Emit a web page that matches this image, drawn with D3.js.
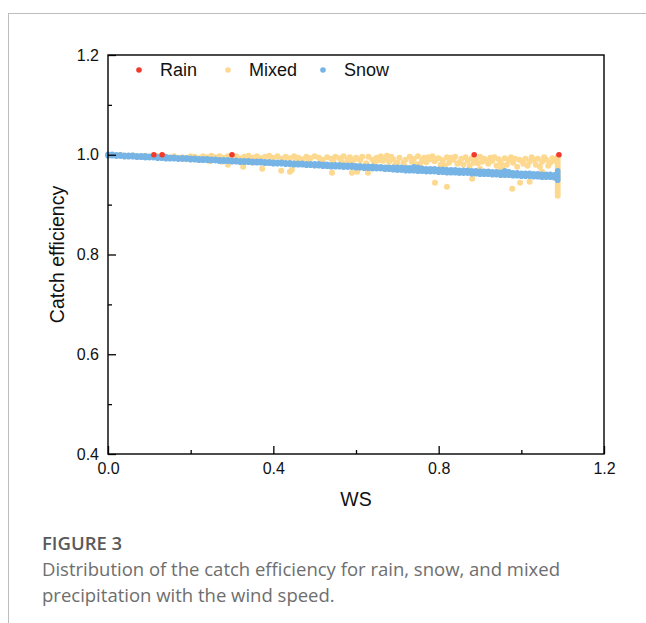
<!DOCTYPE html>
<html>
<head>
<meta charset="utf-8">
<script src="https://cdn.jsdelivr.net/npm/d3@7"></script>
<style>
  body { margin: 0; background: #fff; }
  svg { display: block; }
</style>
</head>
<body>
<svg id="chart"></svg>
<script>
// ---- data ----
const xTicks = [0.0, 0.4, 0.8, 1.2];
const xMinor = [0.2, 0.6, 1.0];
const yTicks = [0.4, 0.6, 0.8, 1.0, 1.2];
const yMinor = [0.5, 0.7, 0.9, 1.1];
const legendNames = ["Rain", "Mixed", "Snow"];

const rain = [[0.111, 1.0], [0.131, 1.0], [0.300, 1.0], [0.886, 1.0], [1.091, 1.0]];

const snowWS = [0.00,0.01,0.02,0.03,0.04,0.05,0.06,0.07,0.08,0.09,0.10,0.11,0.12,0.13,0.14,0.15,0.16,0.17,0.18,0.19,
  0.20,0.21,0.22,0.23,0.24,0.25,0.26,0.27,0.28,0.29,0.30,0.31,0.32,0.33,0.34,0.35,0.36,0.37,0.38,0.39,
  0.40,0.41,0.42,0.43,0.44,0.45,0.46,0.47,0.48,0.49,0.50,0.51,0.52,0.53,0.54,0.55,0.56,0.57,0.58,0.59,
  0.60,0.61,0.62,0.63,0.64,0.65,0.66,0.67,0.68,0.69,0.70,0.71,0.72,0.73,0.74,0.75,0.76,0.77,0.78,0.79,
  0.80,0.81,0.82,0.83,0.84,0.85,0.86,0.87,0.88,0.89,0.90,0.91,0.92,0.93,0.94,0.95,0.96,0.97,0.98,0.99,
  1.00,1.01,1.02,1.03,1.04,1.05,1.06,1.07,1.08];
const snowHigh = [1.001,1.001,1.000,1.000,0.999,0.999,0.999,0.998,0.998,0.998,0.997,0.997,0.996,0.996,0.996,0.995,0.995,0.994,0.994,0.994,
  0.993,0.993,0.992,0.992,0.992,0.991,0.991,0.990,0.990,0.990,0.989,0.989,0.988,0.988,0.988,0.987,0.987,0.987,0.986,0.986,
  0.985,0.985,0.985,0.984,0.984,0.983,0.983,0.983,0.982,0.982,0.982,0.982,0.981,0.981,0.980,0.980,0.980,0.979,0.979,0.979,
  0.978,0.978,0.977,0.977,0.977,0.976,0.976,0.975,0.975,0.975,0.975,0.975,0.974,0.974,0.976,0.975,0.973,0.972,0.972,0.972,
  0.971,0.971,0.970,0.970,0.970,0.969,0.969,0.969,0.968,0.968,0.967,0.967,0.967,0.966,0.966,0.965,0.968,0.966,0.964,0.964,
  0.963,0.963,0.963,0.962,0.962,0.961,0.961,0.961,0.960];
const snowLow = [0.998,0.998,0.997,0.997,0.996,0.996,0.996,0.995,0.995,0.994,0.994,0.994,0.993,0.993,0.992,0.992,0.992,0.991,0.991,0.991,
  0.990,0.990,0.989,0.989,0.989,0.988,0.988,0.987,0.987,0.987,0.986,0.986,0.985,0.985,0.985,0.984,0.984,0.984,0.983,0.983,
  0.982,0.982,0.982,0.981,0.981,0.980,0.980,0.980,0.979,0.979,0.978,0.978,0.977,0.977,0.976,0.976,0.976,0.975,0.975,0.975,
  0.974,0.974,0.973,0.973,0.972,0.972,0.972,0.971,0.971,0.970,0.969,0.969,0.968,0.968,0.968,0.967,0.967,0.966,0.966,0.966,
  0.965,0.965,0.964,0.964,0.964,0.963,0.963,0.963,0.962,0.962,0.961,0.961,0.961,0.960,0.960,0.959,0.959,0.959,0.958,0.958,
  0.957,0.957,0.957,0.956,0.956,0.955,0.955,0.955,0.954];
const snowEnd = [[1.088, 0.968], [1.088, 0.964], [1.088, 0.960], [1.088, 0.956], [1.088, 0.952], [1.088, 0.949]];

const mixed = [
  [0.03,1.000],[0.06,0.999],[0.09,0.998],[0.12,0.997],[0.14,0.996],[0.15,0.993],[0.16,0.997],[0.18,0.995],[0.19,0.991],[0.20,0.997],
  [0.21,0.996],[0.22,0.993],[0.23,0.997],[0.24,0.995],[0.245,0.987],[0.25,0.998],[0.26,0.995],[0.27,0.997],[0.275,0.986],[0.28,0.994],
  [0.29,0.997],[0.29,0.980],[0.30,0.995],[0.31,0.997],[0.32,0.993],[0.33,0.996],[0.34,0.998],[0.35,0.994],[0.36,0.997],[0.37,0.993],
  [0.38,0.996],[0.39,0.998],[0.40,0.994],[0.41,0.997],[0.42,0.992],[0.43,0.996],[0.44,0.993],[0.45,0.997],[0.46,0.994],[0.47,0.991],
  [0.48,0.996],[0.49,0.993],[0.50,0.997],[0.51,0.994],[0.52,0.990],[0.53,0.995],[0.54,0.992],[0.55,0.996],
  [0.327,0.976],[0.345,0.985],[0.373,0.972],[0.40,0.983],[0.419,0.968],[0.44,0.966],[0.445,0.970],[0.49,0.980],[0.542,0.964],
  [0.305,0.990],[0.335,0.991],[0.365,0.989],[0.395,0.990],[0.425,0.988],[0.455,0.989],[0.485,0.987],[0.515,0.986],[0.545,0.987],
  [0.56,0.993],[0.565,0.986],[0.57,0.997],[0.58,0.990],[0.585,0.995],[0.59,0.984],[0.60,0.994],[0.61,0.989],[0.63,0.996],[0.64,0.990],
  [0.645,0.985],[0.65,0.994],[0.66,0.997],[0.665,0.988],[0.67,0.993],[0.68,0.986],[0.685,0.996],[0.69,0.991],[0.70,0.984],[0.705,0.994],
  [0.72,0.990],[0.73,0.996],[0.735,0.986],[0.74,0.992],[0.75,0.997],[0.755,0.982],[0.76,0.989],[0.765,0.994],[0.77,0.985],[0.78,0.991],
  [0.785,0.997],[0.79,0.987],[0.80,0.993],[0.805,0.980],[0.81,0.989],[0.82,0.995],[0.825,0.984],
  [0.575,0.982],[0.595,0.990],[0.615,0.996],[0.625,0.983],[0.655,0.989],[0.675,0.998],[0.695,0.980],[0.715,0.985],[0.745,0.981],[0.775,0.995],
  [0.795,0.992],[0.815,0.978],[0.83,0.994],
  [0.590,0.964],[0.603,0.966],[0.629,0.964],[0.675,0.975],[0.72,0.976],[0.791,0.944],[0.820,0.936],
  [0.835,0.990],[0.84,0.996],[0.85,0.985],[0.855,0.992],[0.86,0.980],[0.865,0.995],[0.87,0.988],[0.88,0.993],[0.885,0.984],[0.89,0.990],
  [0.90,0.996],[0.905,0.986],[0.91,0.992],[0.92,0.982],[0.925,0.994],[0.93,0.988],[0.94,0.978],[0.945,0.991],[0.95,0.985],[0.96,0.993],
  [0.965,0.980],[0.97,0.989],[0.98,0.984],[0.985,0.992],[0.99,0.976],[1.00,0.988],[1.005,0.982],[1.01,0.992],[1.02,0.986],[1.03,0.990],
  [1.035,0.980],[1.04,0.992],[1.05,0.986],[1.06,0.990],[1.07,0.984],[1.075,0.993],
  [0.845,0.982],[0.875,0.978],[0.895,0.983],[0.915,0.988],[0.935,0.995],[0.955,0.978],[0.975,0.995],[0.995,0.990],[1.015,0.978],[1.025,0.995],
  [1.045,0.976],[1.055,0.995],[1.065,0.978],[1.08,0.988],
  [0.881,0.952],[0.90,0.972],[0.95,0.970],[0.978,0.932],[0.997,0.944],[1.02,0.946],[1.05,0.966],
  [1.088,0.996],[1.088,0.990],[1.088,0.984],[1.088,0.978],[1.088,0.972],[1.088,0.966],[1.088,0.960],[1.088,0.954],
  [1.088,0.948],[1.088,0.942],[1.088,0.936],[1.088,0.930],[1.088,0.924],[1.088,0.918]
];

const colors = {Rain: "#f23a2c", Mixed: "#fdd88f", Snow: "#76b4e5"};

// ---- layout ----
const W = 646, H = 623;
const margin = {top: 55, right: 42, bottom: 169, left: 108};
const width = W - margin.left - margin.right;   // 496
const height = H - margin.top - margin.bottom;  // 399

const svgElem = d3.select("#chart").attr("width", W).attr("height", H);

// page frame lines (grey border at top and left)
svgElem.append("line").attr("x1", 8).attr("x2", W).attr("y1", 13.5).attr("y2", 13.5)
  .attr("stroke", "#bdbdbd").attr("stroke-width", 1);
svgElem.append("line").attr("x1", 8.5).attr("x2", 8.5).attr("y1", 13).attr("y2", H)
  .attr("stroke", "#bdbdbd").attr("stroke-width", 1);

const svg = svgElem.append("g").attr("transform", `translate(${margin.left},${margin.top})`);

const xScale = d3.scaleLinear().domain([0, 1.2]).range([0, width]);
const yScale = d3.scaleLinear().domain([0.4, 1.2]).range([height, 0]);

const r = 2.8;

// mixed first, snow on top, rain on top of all
svg.append("g").selectAll("circle").data(mixed).enter().append("circle")
  .attr("cx", d => xScale(d[0])).attr("cy", d => yScale(d[1])).attr("r", 3)
  .attr("fill", colors.Mixed);

const snowPts = snowWS.map((w, i) => [w, snowLow[i]])
  .concat(snowWS.map((w, i) => [w, snowHigh[i]]))
  .concat(snowEnd);
svg.append("g").selectAll("circle").data(snowPts).enter().append("circle")
  .attr("cx", d => xScale(d[0])).attr("cy", d => yScale(d[1])).attr("r", r)
  .attr("fill", colors.Snow);

svg.append("g").selectAll("circle").data(rain).enter().append("circle")
  .attr("cx", d => xScale(d[0])).attr("cy", d => yScale(d[1])).attr("r", r)
  .attr("fill", colors.Rain);

// axes, ticks pointing inward
const axisFont = "'Liberation Sans', Arial, sans-serif";
const fmt = d3.format(".1f");

const xAxis = svg.append("g").attr("transform", `translate(0,${height})`)
  .call(d3.axisBottom(xScale).tickValues(xTicks).tickSize(-8).tickSizeOuter(0).tickPadding(9).tickFormat(fmt));
xAxis.append("g").call(d3.axisBottom(xScale).tickValues(xMinor).tickSize(-4).tickFormat(""));

const yAxis = svg.append("g")
  .call(d3.axisLeft(yScale).tickValues(yTicks).tickSize(-8).tickSizeOuter(0).tickPadding(9).tickFormat(fmt));
yAxis.append("g").call(d3.axisLeft(yScale).tickValues(yMinor).tickSize(-4).tickFormat(""));

svg.selectAll(".domain").remove();
svg.selectAll(".tick line").attr("stroke", "#000").attr("stroke-width", 1.3);
svg.selectAll(".tick text").style("font-family", axisFont).style("font-size", "16px").attr("fill", "#111");

// plot frame
svg.append("rect").attr("x", 0).attr("y", 0).attr("width", width).attr("height", height)
  .attr("fill", "none").attr("stroke", "#000").attr("stroke-width", 1.4);

// axis titles
svg.append("text").attr("x", width / 2).attr("y", height + 52)
  .attr("text-anchor", "middle").style("font-family", axisFont).style("font-size", "19.5px")
  .attr("fill", "#111").text("WS");
svg.append("text").attr("transform", `translate(${-44},${height / 2}) rotate(-90)`)
  .attr("text-anchor", "middle").style("font-family", axisFont).style("font-size", "19.5px")
  .attr("fill", "#111").text("Catch efficiency");

// legend
const legendX = [31, 120, 215];
const legend = svg.append("g").attr("transform", "translate(0,15)");
legendNames.forEach((name, i) => {
  legend.append("circle").attr("cx", legendX[i]).attr("cy", 0).attr("r", r).attr("fill", colors[name]);
  legend.append("text").attr("x", legendX[i] + 21).attr("y", 6)
    .style("font-family", axisFont).style("font-size", "18px").attr("fill", "#111").text(name);
});

// caption
const capFont = "'Open Sans', 'Noto Sans', sans-serif";
svgElem.append("text").attr("x", 42).attr("y", 550)
  .style("font-family", capFont).style("font-size", "18.5px").style("font-weight", 600)
  .attr("fill", "#5a5a5a").text("FIGURE 3");
svgElem.append("text").attr("x", 42).attr("y", 576)
  .style("font-family", capFont).style("font-size", "18.5px")
  .attr("fill", "#6e6e6e").text("Distribution of the catch efficiency for rain, snow, and mixed");
svgElem.append("text").attr("x", 42).attr("y", 602)
  .style("font-family", capFont).style("font-size", "18.5px")
  .attr("fill", "#6e6e6e").text("precipitation with the wind speed.");
</script>
</body>
</html>
